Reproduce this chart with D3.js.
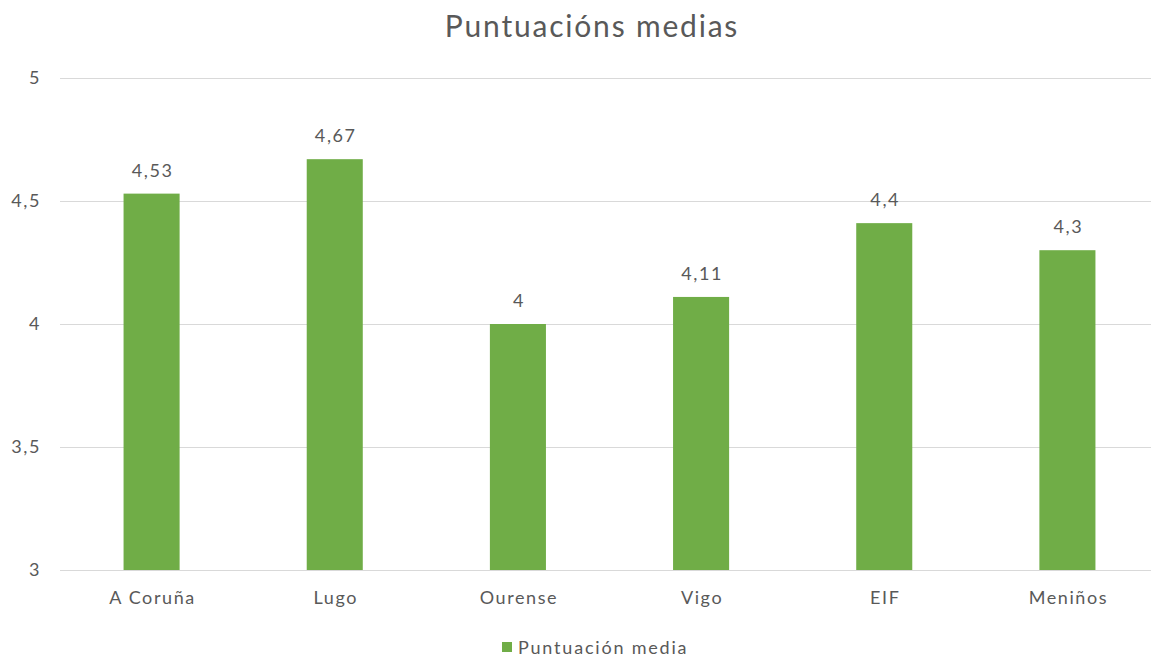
<!DOCTYPE html>
<html>
<head>
<meta charset="utf-8">
<script src="https://cdn.jsdelivr.net/npm/d3@7"></script>
<style>
  body { margin: 0; background: #fff; }
  text { font-family: Lato, "Open Sans", sans-serif; fill: #595959; }
</style>
</head>
<body>
<div class="chart"></div>
<script>
const categories = ["A Coruña", "Lugo", "Ourense", "Vigo", "EIF", "Meniños"];
const values = [4.53, 4.67, 4, 4.11, 4.41, 4.3];
const valueLabels = ["4,53", "4,67", "4", "4,11", "4,4", "4,3"];
const yTicks = [3, 3.5, 4, 4.5, 5];
const yTickLabels = ["3", "3,5", "4", "4,5", "5"];
const seriesName = "Puntuación media";
const title = "Puntuacións medias";

const width = 1151;
const height = 660;
const margin = { top: 78, bottom: 90, left: 60, right: -8 };
const barColor = "#70ad47";

const svg = d3.select(".chart")
  .append("svg")
  .attr("width", width)
  .attr("height", height);

const x = d3.scaleBand()
  .domain(categories)
  .range([margin.left, width - margin.right])
  .paddingInner(0.694)
  .paddingOuter(0.347);

const y = d3.scaleLinear()
  .domain([3, 5])
  .range([height - margin.bottom, margin.top]);

// title
svg.append("text")
  .attr("x", 592)
  .attr("y", 37)
  .attr("text-anchor", "middle")
  .style("font-size", "30px")
  .style("letter-spacing", "1.8px")
  .text(title);

// gridlines
svg.append("g")
  .selectAll("line")
  .data(yTicks)
  .join("line")
  .attr("x1", margin.left)
  .attr("x2", width - margin.right)
  .attr("y1", d => Math.round(y(d)) + 0.5)
  .attr("y2", d => Math.round(y(d)) + 0.5)
  .attr("stroke", "#d9d9d9")
  .attr("stroke-width", 1);

// y labels
svg.append("g")
  .selectAll("text")
  .data(yTicks)
  .join("text")
  .attr("x", 41)
  .attr("y", d => y(d) + 6)
  .attr("text-anchor", "end")
  .style("font-size", "18px")
  .style("letter-spacing", "1.6px")
  .text((d, i) => yTickLabels[i]);

// bars
svg.append("g")
  .selectAll("rect")
  .data(values)
  .join("rect")
  .attr("x", (d, i) => x(categories[i]))
  .attr("width", x.bandwidth())
  .attr("y", d => y(d))
  .attr("height", d => y(3) - y(d))
  .attr("fill", barColor);

// value labels
svg.append("g")
  .selectAll("text")
  .data(values)
  .join("text")
  .attr("x", (d, i) => x(categories[i]) + x.bandwidth() / 2 + 1)
  .attr("y", d => y(d) - 17)
  .attr("text-anchor", "middle")
  .style("font-size", "18px")
  .style("letter-spacing", "1.6px")
  .text((d, i) => valueLabels[i]);

// x labels
svg.append("g")
  .selectAll("text")
  .data(categories)
  .join("text")
  .attr("x", d => x(d) + x.bandwidth() / 2 + 1)
  .attr("y", 604)
  .attr("text-anchor", "middle")
  .style("font-size", "18px")
  .style("letter-spacing", "1.6px")
  .text(d => d);

// legend
const legend = svg.append("g")
  .attr("transform", "translate(502,642)");

legend.append("rect")
  .attr("width", 10)
  .attr("height", 10)
  .attr("fill", barColor);

legend.append("text")
  .attr("x", 16)
  .attr("y", 12)
  .style("font-size", "18px")
  .style("letter-spacing", "1.8px")
  .text(seriesName);
</script>
</body>
</html>
